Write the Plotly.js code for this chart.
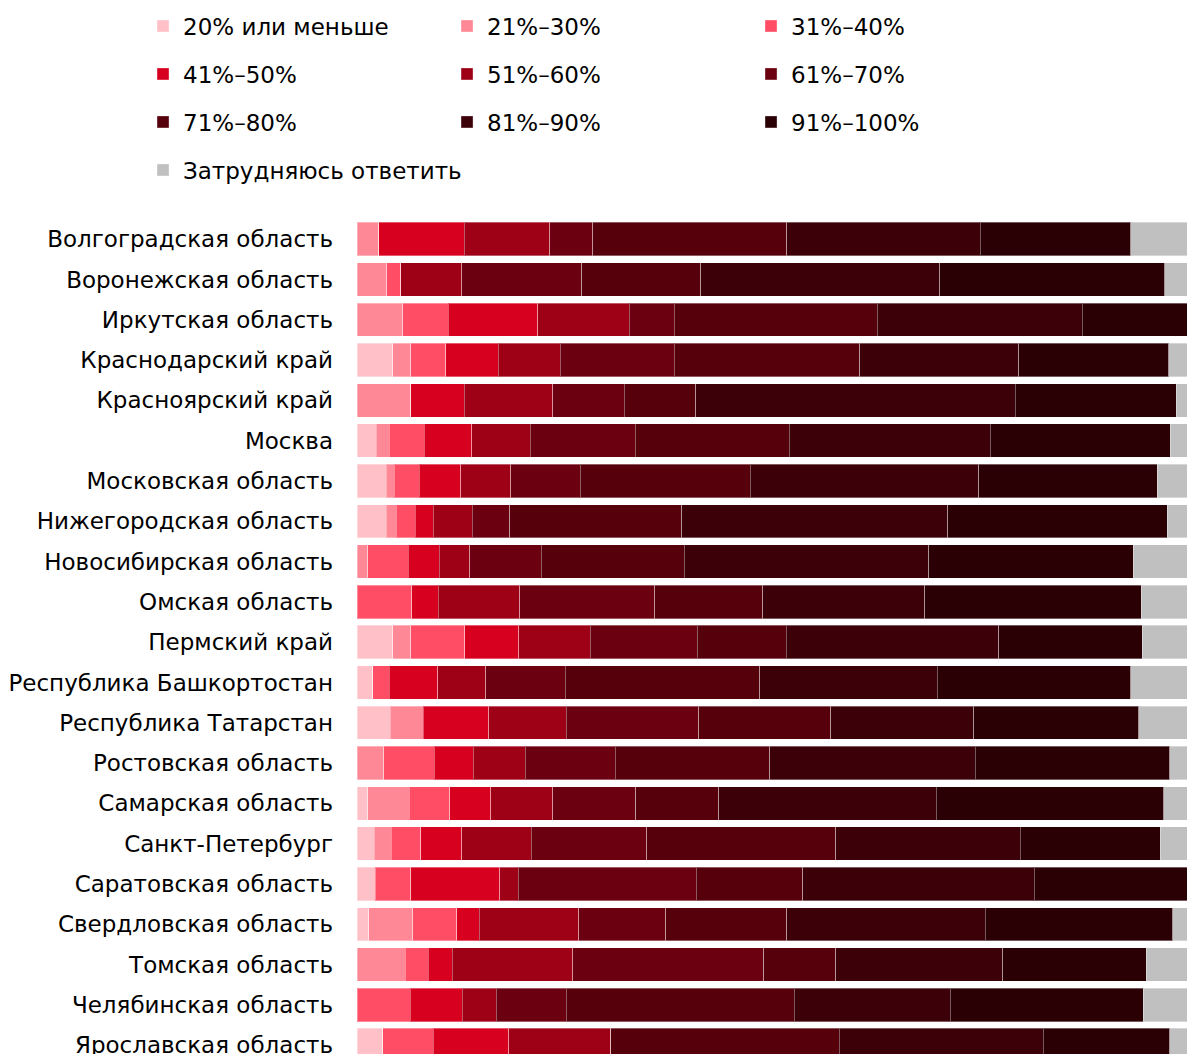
<!DOCTYPE html>
<html>
<head>
<meta charset="utf-8">
<script src="https://cdn.plot.ly/plotly-3.0.1.min.js"></script>
<style>html,body{margin:0;padding:0;background:#fff;}#chart{width:1187px;height:1054px;}</style>
</head>
<body>
<div id="chart"></div>
<script>
const regions = [
  "Волгоградская область","Воронежская область","Иркутская область","Краснодарский край",
  "Красноярский край","Москва","Московская область","Нижегородская область",
  "Новосибирская область","Омская область","Пермский край","Республика Башкортостан",
  "Республика Татарстан","Ростовская область","Самарская область","Санкт-Петербург",
  "Саратовская область","Свердловская область","Томская область","Челябинская область",
  "Ярославская область"
];
const seriesNames = ["20% или меньше","21%–30%","31%–40%","41%–50%","51%–60%","61%–70%",
  "71%–80%","81%–90%","91%–100%","Затрудняюсь ответить"];
const s20     = [0, 0, 0, 4.3, 0, 2.3, 3.5, 3.5, 0, 0, 4.3, 1.9, 4.0, 0, 1.3, 2.1, 2.2, 1.4, 0, 0, 3.1];
const s21_30  = [2.6, 3.6, 5.5, 2.2, 6.5, 1.6, 1.0, 1.2, 1.3, 0, 2.2, 0, 4.0, 3.2, 5.0, 2.0, 0, 5.3, 5.8, 0, 0];
const s31_40  = [0, 1.7, 5.5, 4.2, 0, 4.2, 3.0, 2.3, 4.9, 6.6, 6.5, 2.0, 0, 6.1, 4.9, 3.6, 4.3, 5.3, 2.8, 6.4, 6.1];
const s41_50  = [10.3, 0, 10.8, 6.3, 6.4, 5.7, 5.0, 2.2, 3.7, 3.2, 6.5, 5.8, 7.9, 4.7, 4.9, 4.9, 10.7, 2.7, 2.9, 6.3, 9.1];
const s51_60  = [10.3, 7.3, 11.0, 7.5, 10.7, 7.1, 6.0, 4.7, 3.7, 9.8, 8.6, 5.8, 9.3, 6.3, 7.5, 8.4, 2.2, 12.0, 14.5, 4.1, 12.3];
const s61_70  = [5.2, 14.5, 5.4, 13.7, 8.6, 12.6, 8.4, 4.5, 8.6, 16.3, 12.9, 9.6, 16.0, 10.8, 10.0, 13.9, 21.5, 10.5, 23.0, 8.4, 0];
const s71_80  = [23.4, 14.3, 24.5, 22.4, 8.6, 18.6, 20.5, 20.7, 17.2, 13.0, 10.7, 23.4, 15.9, 18.6, 10.0, 22.8, 12.8, 14.6, 8.7, 27.5, 27.5];
const s81_90  = [23.3, 28.8, 24.7, 19.1, 38.5, 24.2, 27.5, 32.1, 29.5, 19.5, 25.6, 21.4, 17.2, 24.8, 26.2, 22.2, 27.9, 23.9, 20.1, 18.8, 24.6];
const s91_100 = [18.1, 27.1, 12.6, 18.1, 19.4, 21.7, 21.5, 26.4, 24.6, 26.1, 17.3, 23.3, 19.9, 23.4, 27.4, 16.9, 18.4, 22.6, 17.3, 23.2, 15.2];
const sDK     = [6.8, 2.7, 0, 2.3, 1.3, 2.0, 3.6, 2.5, 6.5, 5.5, 5.5, 6.8, 5.8, 2.2, 2.8, 3.2, 0, 1.7, 4.9, 5.3, 2.1];

const allSeries = [s20, s21_30, s31_40, s41_50, s51_60, s61_70, s71_80, s81_90, s91_100, sDK];
const colors = ['#ffc0c8','#ff8896','#ff4d65','#d7001e','#9e0016','#6b0010','#55000b','#3b0008','#2b0005','#c0c0c0'];
const legendIds = ['legend','legend','legend','legend2','legend2','legend2','legend3','legend3','legend3','legend4'];

const FONT = "'DejaVu Sans', Verdana, sans-serif";

const traces = allSeries.map((vals, i) => ({
  type: 'bar',
  orientation: 'h',
  name: seriesNames[i],
  x: vals,
  y: regions,
  marker: {color: colors[i], line: {color: 'rgba(255,255,255,0.35)', width: 1}},
  legend: legendIds[i],
  hoverinfo: 'skip'
}));

const legendBase = {
  orientation: 'h',
  xref: 'paper', yref: 'paper',
  x: -0.2578, xanchor: 'left', yanchor: 'middle',
  entrywidth: 259,
  font: {family: FONT, size: 23, color: '#000'},
  bgcolor: 'rgba(0,0,0,0)', borderwidth: 0,
  traceorder: 'normal'
};

const layout = {
  width: 1187, height: 1054,
  margin: {l: 357, r: 0, t: 219, b: 0, pad: 0, autoexpand: false},
  paper_bgcolor: '#fff', plot_bgcolor: '#fff',
  barmode: 'stack',
  bargap: 0.17,
  font: {family: FONT, size: 23, color: '#000'},
  xaxis: {range: [0, 100], visible: false, fixedrange: true},
  yaxis: {
    type: 'category',
    range: [20.22, -0.5],
    showgrid: false, zeroline: false, showline: false,
    ticks: '',
    ticklabelstandoff: 23,
    tickfont: {family: FONT, size: 23, color: '#000'},
    fixedrange: true
  },
  showlegend: true,
  legend:  Object.assign({}, legendBase, {y: 1.2311}),
  legend2: Object.assign({}, legendBase, {y: 1.1737}),
  legend3: Object.assign({}, legendBase, {y: 1.1162}),
  legend4: Object.assign({}, legendBase, {y: 1.0587, entrywidth: 420})
};

Plotly.newPlot('chart', traces, layout, {displayModeBar: false, staticPlot: true});
</script>
</body>
</html>
